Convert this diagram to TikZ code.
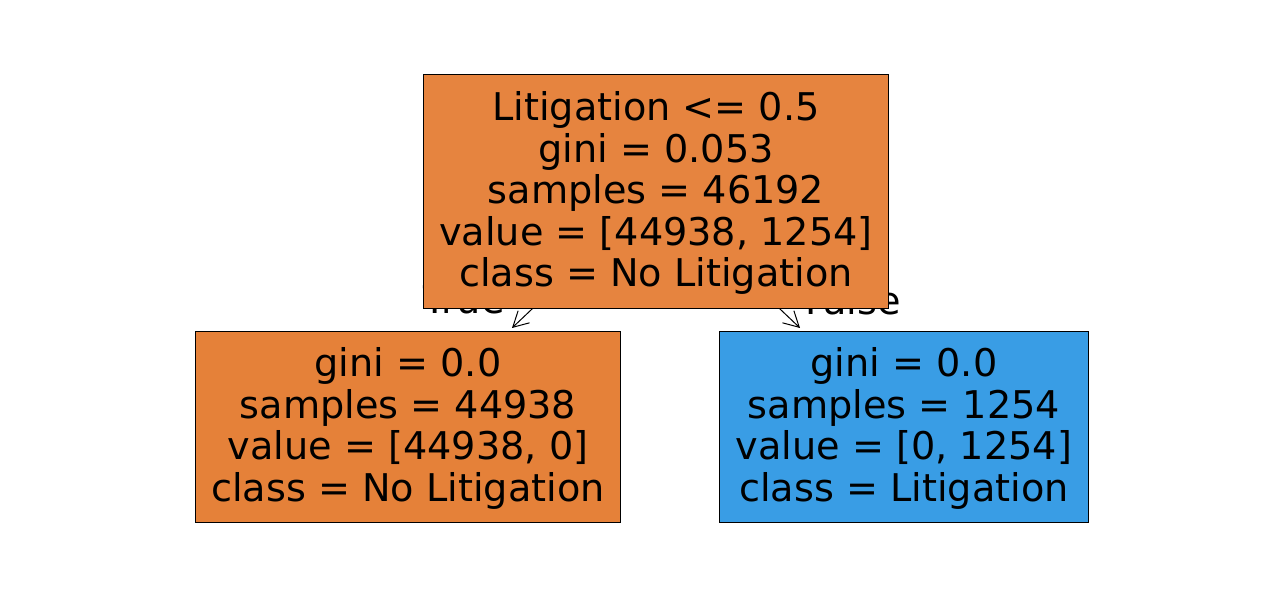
\documentclass[tikz,border=0pt]{standalone}
\usepackage{fontspec}
\setmainfont{DejaVu Sans}
\usetikzlibrary{arrows.meta}
\pgfdeclarelayer{background}
\pgfsetlayers{background,main}
\definecolor{rootor}{HTML}{E6843F}
\definecolor{leafor}{HTML}{E58139}
\definecolor{leafbl}{HTML}{399DE5}
\tikzset{
  treebox/.style={draw=black, line width=0.72pt, rectangle, align=center, inner sep=0pt,
    font=\fontsize{27.5pt}{29.9pt}\selectfont},
  edgelbl/.style={font=\fontsize{27.5pt}{29.9pt}\selectfont, inner sep=0pt},
  treearrow/.style={line width=0.72pt, -{Straight Barb[length=11pt,width=12pt]}}
}
\newcommand{\boxlines}[1]{\raisebox{-2.8pt}[\height][\depth]{\begin{tabular}{@{}c@{}}#1\end{tabular}}}
\begin{document}
\begin{tikzpicture}[x=0.72pt,y=-0.72pt]
\useasboundingbox (0,0) rectangle (1280,612);
\node[edgelbl] (tlbl) at (464,300) {True};
\node[edgelbl] (flbl) at (853,300) {False};
\node[treebox, fill=rootor, minimum width=335.5pt, minimum height=167.8pt] (root) at (656,191.5)
  {\boxlines{Litigation <= 0.5\\gini = 0.053\\samples = 46192\\value = [44938, 1254]\\class = No Litigation}};
\node[treebox, fill=leafor, minimum width=306.7pt, minimum height=138.2pt] (left) at (408,427)
  {\boxlines{gini = 0.0\\samples = 44938\\value = [44938, 0]\\class = No Litigation}};
\node[treebox, fill=leafbl, minimum width=265pt, minimum height=138.2pt] (right) at (904,427)
  {\boxlines{gini = 0.0\\samples = 1254\\value = [0, 1254]\\class = Litigation}};
\coordinate (ltip) at (512,328);
\coordinate (rtip) at (800,328);
\begin{pgfonlayer}{background}
\draw[treearrow] (root.center) -- (ltip);
\draw[treearrow] (root.center) -- (rtip);
\end{pgfonlayer}
\end{tikzpicture}
\end{document}
